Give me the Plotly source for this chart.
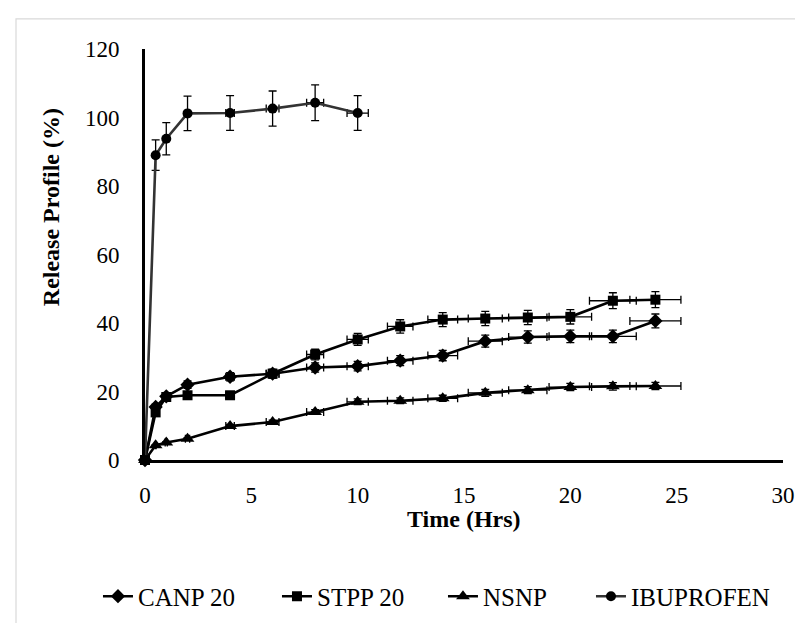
import plotly.graph_objects as go

# ---- data ----
time_h = [0, 0.5, 1, 2, 4, 6, 8, 10, 12, 14, 16, 18, 20, 22, 24]
canp20 = [0, 15.5, 18.6, 22.0, 24.3, 25.2, 27.0, 27.4, 29.0, 30.5, 34.7, 35.9, 36.1, 36.1, 40.6]
stpp20 = [0, 13.9, 18.4, 18.9, 18.9, 25.2, 30.8, 35.2, 39.0, 41.0, 41.3, 41.6, 41.8, 46.5, 46.8]
nsnp = [0, 4.3, 5.1, 6.2, 9.9, 11.1, 14.0, 17.0, 17.3, 18.0, 19.6, 20.4, 21.3, 21.5, 21.6]
ibu_time = [0, 0.5, 1, 2, 4, 6, 8, 10]
ibuprofen = [0, 89.0, 93.8, 101.2, 101.3, 102.6, 104.3, 101.3]
err_pct = 5  # percentage error bars (x and y)

x_ticks = [0, 5, 10, 15, 20, 25, 30]
y_ticks = [0, 20, 40, 60, 80, 100, 120]

FONT = "Palatino Linotype, Book Antiqua, Palatino, Liberation Serif, serif"

series = [
    ("CANP 20", time_h, canp20, "diamond", 11, "#000000", 134),
    ("STPP 20", time_h, stpp20, "square", 10, "#000000", 121),
    ("NSNP", time_h, nsnp, "triangle-up", 12, "#000000", 103),
    ("IBUPROFEN", ibu_time, ibuprofen, "circle", 10, "#333333", 140),
]

fig = go.Figure()
for name, xs, ys, sym, size, col, lw in series:
    fig.add_trace(go.Scatter(
        x=xs, y=ys, name=name, mode="lines+markers",
        line=dict(color=col, width=2.6),
        marker=dict(symbol=sym, size=size, color="#000000"),
        error_y=dict(type="percent", value=err_pct, color="#000000", thickness=1.3, width=4),
        error_x=dict(type="percent", value=err_pct, color="#000000", thickness=1.3, width=4),
        cliponaxis=False,
        legendwidth=lw,
    ))

fig.update_layout(
    width=803, height=623,
    margin=dict(l=137, r=28, t=41, b=171),
    paper_bgcolor="white", plot_bgcolor="white",
    font=dict(family=FONT, size=23, color="#000000"),
    showlegend=True,
    legend=dict(
        orientation="h", x=-0.0737, xanchor="left", y=-0.332, yanchor="middle",
        font=dict(family=FONT, size=25, color="#000000"),
        itemwidth=30, bgcolor="rgba(0,0,0,0)",
    ),
    xaxis=dict(
        range=[0, 30], tickvals=x_ticks, ticks="", showgrid=False, zeroline=False,
        showline=True, linecolor="#000000", linewidth=3,
        tickfont=dict(family=FONT, size=23), ticklabelstandoff=12,
    ),
    yaxis=dict(
        range=[0, 120], tickvals=y_ticks, ticks="", showgrid=False, zeroline=False,
        showline=True, linecolor="#000000", linewidth=3,
        tickfont=dict(family=FONT, size=23), ticklabelstandoff=18,
    ),
    shapes=[
        dict(type="rect", xref="paper", yref="paper",
             x0=-0.2022, x1=1.2, y0=-0.6, y1=1.0732,
             line=dict(color="#d9d9d9", width=1.2), fillcolor="rgba(0,0,0,0)", layer="below"),
    ],
    annotations=[
        dict(text="<b>Time (Hrs)</b>", xref="paper", yref="paper", x=0.5, y=-0.1436,
             xanchor="center", yanchor="middle", showarrow=False,
             font=dict(family=FONT, size=24, color="#000000")),
        dict(text="<b>Release Profile (%)</b>", xref="paper", yref="paper", x=-0.147, y=0.6156,
             xanchor="center", yanchor="middle", textangle=-90, showarrow=False,
             font=dict(family=FONT, size=24, color="#000000")),
    ],
)

fig.write_html("out.html")
